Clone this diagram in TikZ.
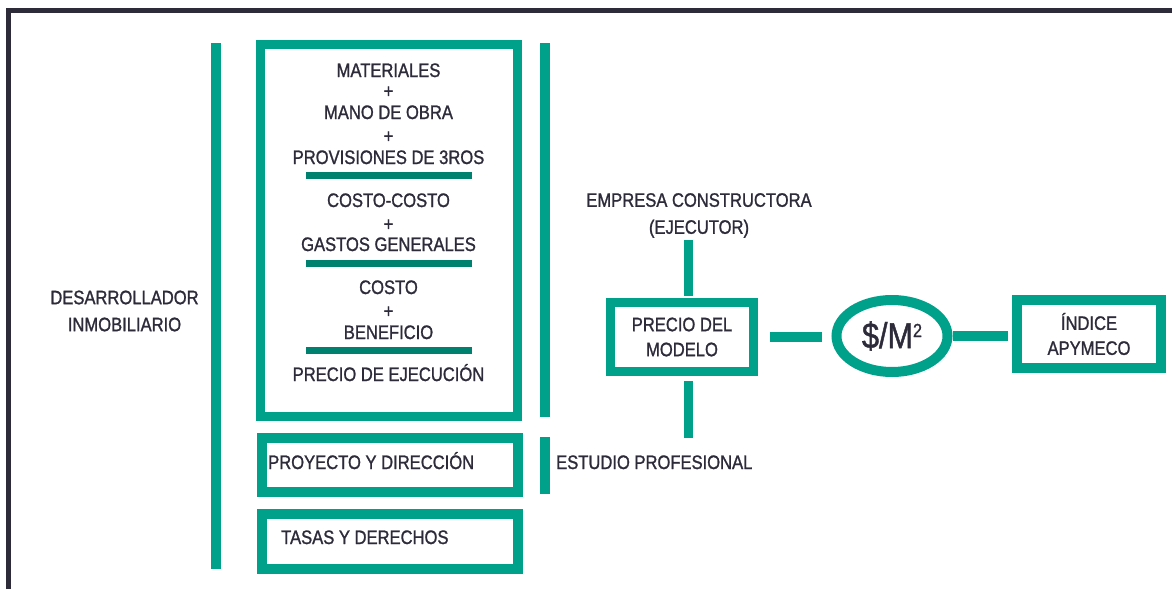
\documentclass[tikz,border=0pt]{standalone}
\usepackage{fontspec}
\setmainfont[FakeStretch=0.85,UprightFeatures={FakeBold=1.2}]{Liberation Sans}
\usetikzlibrary{positioning,shapes.geometric}
\definecolor{tealmain}{RGB}{0,161,139}
\definecolor{tealrule}{RGB}{0,128,110}
\definecolor{ink}{RGB}{45,43,58}
\tikzset{
box/.style={
draw=tealmain,
line width=9pt,
text=ink,align=center,inner sep=0pt},
txt/.style={text=ink,anchor=base,inner sep=0pt},
bar/.style={draw=tealmain,line width=10pt},
rule/.style={draw=tealrule,line width=7pt},
link/.style={draw=tealmain,line width=10pt},
font={\fontsize{19.5pt}{25pt}\selectfont}
}

\begin{document}
\begin{tikzpicture}[x=1pt,y=-1pt]
  \useasboundingbox (0,0) rectangle (1172,589);
  % page frame
  \draw[ink,line width=5pt] (8,589) -- (8,10) -- (1172,10);

  % cost chain
  \node[box, minimum width=257pt, minimum height=372pt] (costos) at (388.5,230) {};
  \foreach \yb/\word [count=\i] in {77/MATERIALES,119/MANO DE OBRA,164/PROVISIONES DE 3ROS,207/COSTO-COSTO,251/GASTOS GENERALES,294/COSTO,339/BENEFICIO,381/PRECIO DE EJECUCIÓN}
    \node[txt] (item\i) at (388.5,\yb) {\word};
  \foreach \yp [count=\i] in {92,137,225,312}
    \node[txt, anchor=center] (plus\i) at (388.5,\yp) {+};
  \draw[rule] (306,175) -- (472,175);
  \draw[rule] (306,263) -- (472,263);
  \draw[rule] (306,350) -- (472,350);

  \node[box, line width=10pt, minimum width=256pt, minimum height=54pt] (proyecto) at (390,465) {};
  \node[txt, anchor=base west] (proytxt) at (268,469) {PROYECTO Y DIRECCIÓN};
  \node[box, line width=10pt, minimum width=256pt, minimum height=55pt] (tasas) at (390,541.5) {};
  \node[txt, anchor=base west] (tasastxt) at (281,544) {TASAS Y DERECHOS};

  % brackets
  \draw[bar] (216,43) -- (216,569);
  \draw[bar] (545,43) -- (545,417);
  \draw[bar] (545,437) -- (545,494);
  \node[txt, anchor=center, align=center, font={\fontsize{19.5pt}{27pt}\selectfont}] (desarrollador) at (124.5,311) {DESARROLLADOR\\INMOBILIARIO};
  \node[txt, anchor=base west] (estudio) at (556,469) {ESTUDIO PROFESIONAL};
  \node[txt, anchor=center, align=center, font={\fontsize{19.5pt}{27pt}\selectfont}] (empresa) at (699,215.5) {EMPRESA CONSTRUCTORA\\(EJECUTOR)};

  % model price
  \node[box, minimum width=143pt, minimum height=69pt] (precio) at (682,337) {PRECIO DEL\\MODELO};
  \node[box, ellipse, line width=10pt, minimum width=111pt, minimum height=72pt, font={\fontsize{36pt}{36pt}\selectfont}] (m2) at (892,336) {\$/M\raisebox{11pt}{\fontsize{19pt}{19pt}\selectfont 2}};
  \node[box, line width=10pt, minimum width=144pt, minimum height=68pt] (indice) at (1089,334) {ÍNDICE\\APYMECO};

  \coordinate (emptop) at (688.5,240);
  \coordinate (estbot) at (688.5,438);
  \draw[link, line width=9pt, shorten >=2pt] (emptop) -- (emptop |- precio.north);
  \draw[link, line width=9pt, shorten <=5pt] (estbot |- precio.south) -- (estbot);
  \draw[link, shorten <=12pt, shorten >=10pt] (precio.east) -- (precio.east -| m2.west);
  \draw[link, shorten >=4pt] (m2.east) -- (m2.east -| indice.west);
\end{tikzpicture}
\end{document}
